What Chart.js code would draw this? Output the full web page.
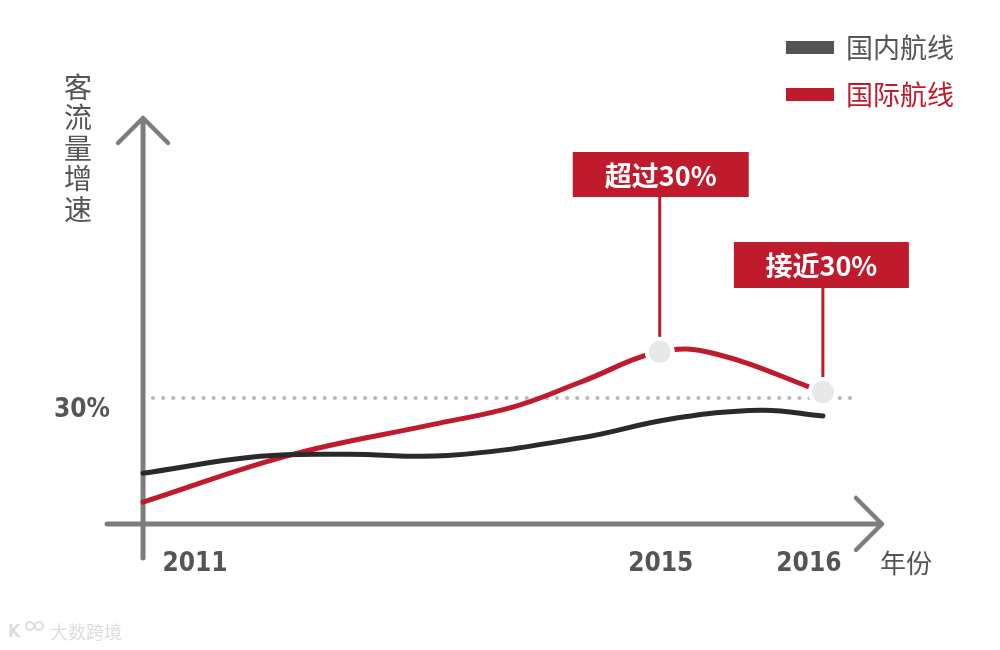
<!DOCTYPE html>
<html>
<head>
<meta charset="utf-8">
<script src="https://cdn.jsdelivr.net/npm/chart.js@4/dist/chart.umd.min.js"></script>
<style>
html,body{margin:0;padding:0;background:#fff;}
#wrap{width:1000px;height:650px;position:relative;}
</style>
</head>
<body>
<div id="wrap"><canvas id="c" width="1000" height="650"></canvas></div>
<script>
// timeline position: 0 = 2011, 100 = 2016
const yearLabels = ['2011', '2015', '2016'];
const yearPositions = [0, 76, 100];
const referenceValue = 30; // %
const seriesNames = ['国内航线', '国际航线'];
const domesticX = [0, 17.2, 30.0, 44.8, 64.4, 77.6, 90.9, 100];
const domesticY = [12.1, 16.1, 16.6, 16.3, 20.5, 25.0, 27.1, 25.7];
const intlX = [0, 21.6, 42.3, 54.5, 64.4, 76.0, 84.0, 100];
const intlY = [5.2, 16.4, 23.6, 27.9, 33.8, 41.0, 40.6, 31.4];
const calloutTexts = ['超过30%', '接近30%'];
const calloutPositions = [76.0, 100];

const RED = '#bf1b2c';
const DARK = '#2a2a2a';
const AXIS = '#7d7d7d';
const TEXT = '#555555';
const NUMFONT = '"DejaVu Sans Condensed","DejaVu Sans",sans-serif';
const CJK = '"Noto Sans CJK SC","Noto Sans",sans-serif';

const pts = (xs, ys) => xs.map((x, i) => ({x, y: ys[i]}));
const markerRadius = intlX.map(x => calloutPositions.includes(x) ? 13 : 0);

const decor = {
  id: 'decor',
  beforeDatasetsDraw(chart) {
    const {ctx} = chart;
    const xs = chart.scales.x, ys = chart.scales.y;
    const x0 = xs.getPixelForValue(0), y0 = ys.getPixelForValue(0);
    ctx.save();
    // dotted reference line
    const yr = ys.getPixelForValue(referenceValue);
    ctx.fillStyle = '#b9b9b9';
    for (let x = x0 + 10; x <= xs.getPixelForValue(104.5); x += 10.1) {
      ctx.beginPath(); ctx.arc(x, yr, 2.1, 0, Math.PI * 2); ctx.fill();
    }
    // axes
    ctx.strokeStyle = AXIS; ctx.lineWidth = 5; ctx.lineCap = 'round'; ctx.lineJoin = 'round';
    ctx.beginPath();
    ctx.moveTo(x0, chart.chartArea.bottom); ctx.lineTo(x0, chart.chartArea.top + 2);
    ctx.moveTo(chart.chartArea.left, y0); ctx.lineTo(chart.chartArea.right - 2, y0);
    ctx.stroke();
    ctx.lineWidth = 4.5;
    ctx.beginPath();
    ctx.moveTo(x0 - 25, chart.chartArea.top + 26); ctx.lineTo(x0, chart.chartArea.top + 1); ctx.lineTo(x0 + 25, chart.chartArea.top + 26);
    const xr = chart.chartArea.right - 1;
    ctx.moveTo(xr - 26, y0 - 26); ctx.lineTo(xr, y0); ctx.lineTo(xr - 26, y0 + 26);
    ctx.stroke();
    // callout stems
    ctx.strokeStyle = RED; ctx.lineWidth = 3; ctx.lineCap = 'butt';
    const meta = chart.getDatasetMeta(1);
    calloutPositions.forEach((p, k) => {
      const idx = intlX.indexOf(p);
      const el = meta.data[idx];
      const top = k === 0 ? 197 : 288;
      ctx.beginPath(); ctx.moveTo(el.x, top); ctx.lineTo(el.x, el.y); ctx.stroke();
    });
    ctx.restore();
  },
  afterDatasetsDraw(chart) {
    const {ctx} = chart;
    const xs = chart.scales.x, ys = chart.scales.y;
    ctx.save();
    // callout boxes
    const meta = chart.getDatasetMeta(1);
    const boxes = [{dx: -87, top: 152, w: 176, h: 45}, {dx: -89, top: 242, w: 175, h: 46}];
    calloutPositions.forEach((p, k) => {
      const el = meta.data[intlX.indexOf(p)];
      const b = boxes[k];
      ctx.fillStyle = RED;
      ctx.fillRect(el.x + b.dx, b.top, b.w, b.h);
      ctx.fillStyle = '#ffffff';
      ctx.font = 'bold 27px ' + CJK;
      ctx.textAlign = 'center'; ctx.textBaseline = 'middle';
      ctx.fillText(calloutTexts[k], el.x + b.dx + b.w / 2, b.top + b.h / 2 + 1);
    });
    // year labels
    ctx.fillStyle = TEXT; ctx.font = 'bold 26px ' + NUMFONT;
    ctx.textAlign = 'center'; ctx.textBaseline = 'middle';
    const offs = [52, 1, -14];
    yearLabels.forEach((t, i) => {
      ctx.fillText(t, xs.getPixelForValue(yearPositions[i]) + offs[i], 564);
    });
    ctx.font = '26px ' + CJK; ctx.textAlign = 'left';
    ctx.fillText('年份', 880, 563);
    // 30% label
    ctx.font = 'bold 26px ' + NUMFONT; ctx.textAlign = 'left';
    ctx.fillText(referenceValue + '%', 54, ys.getPixelForValue(referenceValue) + 12);
    // y axis title (vertical)
    ctx.font = '28px ' + CJK; ctx.textAlign = 'center';
    const title = '客流量增速';
    for (let i = 0; i < title.length; i++) ctx.fillText(title[i], 78, 87 + i * 30.5);
    // legend
    ctx.fillStyle = '#545454'; ctx.fillRect(786, 41, 48, 13);
    ctx.fillStyle = RED; ctx.fillRect(786, 88, 48, 13);
    ctx.font = '27px ' + CJK; ctx.textAlign = 'left';
    ctx.fillStyle = TEXT; ctx.fillText(seriesNames[0], 846, 48);
    ctx.fillStyle = RED; ctx.fillText(seriesNames[1], 846, 95);
    // watermark
    ctx.fillStyle = '#dddddd';
    ctx.font = 'bold 18px ' + NUMFONT;
    ctx.fillText('K', 8, 632);
    ctx.beginPath(); ctx.arc(30, 626, 4, 0, Math.PI*2); ctx.moveTo(43, 626); ctx.arc(39, 626, 4, 0, Math.PI*2);
    ctx.strokeStyle = '#dddddd'; ctx.lineWidth = 2; ctx.stroke();
    ctx.font = '18px ' + CJK;
    ctx.fillText('大数跨境', 50, 632);
    ctx.restore();
  }
};

new Chart(document.getElementById('c'), {
  type: 'line',
  data: {
    datasets: [
      {
        label: seriesNames[0], data: pts(domesticX, domesticY),
        borderColor: DARK, borderWidth: 5, pointRadius: 0, tension: 0.4,
        borderCapStyle: 'round', fill: false
      },
      {
        label: seriesNames[1], data: pts(intlX, intlY),
        borderColor: RED, borderWidth: 5, tension: 0.4,
        borderCapStyle: 'round', fill: false,
        pointRadius: markerRadius, pointHoverRadius: markerRadius,
        pointBackgroundColor: '#e8e8e8', pointBorderColor: '#ffffff', pointBorderWidth: 4
      }
    ]
  },
  options: {
    responsive: false, animation: false, clip: false,
    layout: {padding: {left: 107, right: 117, top: 117, bottom: 92}},
    plugins: {legend: {display: false}, tooltip: {enabled: false}},
    scales: {
      x: {type: 'linear', display: false, min: -5.3, max: 108.84},
      y: {type: 'linear', display: false, min: -8.1, max: 96.9}
    }
  },
  plugins: [decor]
});
</script>
</body>
</html>
